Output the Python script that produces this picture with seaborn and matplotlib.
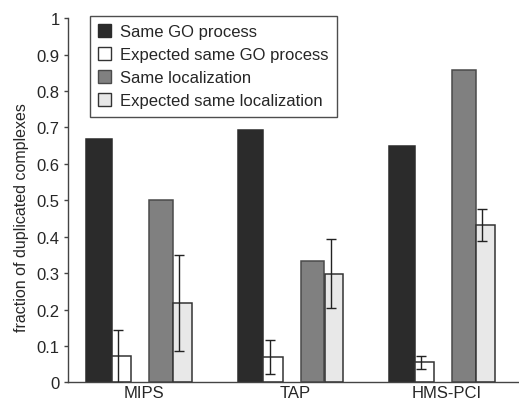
import matplotlib
matplotlib.use("Agg")
import matplotlib.pyplot as plt
import seaborn as sns
import numpy as np
from matplotlib.patches import Patch

# ---- data ----
categories = ["MIPS", "TAP", "HMS-PCI"]
series_names = ["Same GO process", "Expected same GO process",
                "Same localization", "Expected same localization"]
same_go = [0.668, 0.693, 0.648]
expected_go = [0.072, 0.069, 0.055]
expected_go_err = [0.073, 0.047, 0.018]
same_loc = [0.500, 0.334, 0.859]
expected_loc = [0.218, 0.298, 0.432]
expected_loc_err = [0.132, 0.095, 0.044]
ytick_labels = ["0", "0.1", "0.2", "0.3", "0.4", "0.5", "0.6", "0.7", "0.8", "0.9", "1"]

sns.set_style("white")
plt.rcParams["font.family"] = ["Liberation Sans", "DejaVu Sans"]

fig = plt.figure(figsize=(5.19, 4.02), dpi=100)
ax = fig.add_axes([0.131, 0.0465, 0.869, 0.9055])

x = np.arange(len(categories))
offsets = [-0.294, -0.147, 0.114, 0.256]
widths = [0.168, 0.126, 0.158, 0.125]
colors = ["#2b2b2b", "#ffffff", "#808080", "#e8e8e8"]
edges = ["#2b2b2b", "#333333", "#4a4a4a", "#333333"]
values = [same_go, expected_go, same_loc, expected_loc]

for vals, off, w, c, ec in zip(values, offsets, widths, colors, edges):
    sns.barplot(x=x + off, y=vals, native_scale=True, width=w, color=c,
                edgecolor=ec, linewidth=1.1, saturation=1, ax=ax, zorder=2)

err_off = [-0.167, 0.236]
for vals, errs, eo in zip([expected_go, expected_loc],
                          [expected_go_err, expected_loc_err], err_off):
    ax.errorbar(x + eo, vals, yerr=errs, fmt="none", ecolor="#222222",
                elinewidth=1.0, capsize=3.5, capthick=1.0, zorder=3)

ax.set_xlim(-0.5, 2.477)
ax.set_ylim(0, 1)
ax.set_yticks(np.linspace(0, 1, 11))
ax.set_yticklabels(ytick_labels, fontsize=12)
ax.set_xticks(x)
ax.set_xticklabels(categories, fontsize=12)
ax.set_xticks([-0.5, 0.5, 1.5], minor=True)
ax.tick_params(axis="x", which="major", length=0, pad=2)
ax.tick_params(axis="x", which="minor", length=3, width=1, color="#444444", direction="out")
ax.tick_params(axis="y", length=3, width=1, color="#444444", direction="out", pad=3, left=True)
ax.set_xlabel("")
ax.set_ylabel("fraction of duplicated complexes", fontsize=11.5)
ax.yaxis.set_label_coords(-0.087, 0.454)

for s in ["top", "right"]:
    ax.spines[s].set_visible(False)
for s in ["left", "bottom"]:
    ax.spines[s].set_color("#444444")
    ax.spines[s].set_linewidth(1.0)

handles = [Patch(facecolor=c, edgecolor=ec, linewidth=1.0) for c, ec in zip(colors, edges)]
leg = fig.legend(handles, series_names, loc="upper left",
                 bbox_to_anchor=(0.173, 0.958), fontsize=12,
                 frameon=True, fancybox=False, edgecolor="#222222",
                 handlelength=0.75, handleheight=0.75, handletextpad=0.55,
                 labelspacing=0.48, borderpad=0.5, borderaxespad=0)
leg.get_frame().set_linewidth(1.0)

fig.savefig("out.png", dpi=100)
